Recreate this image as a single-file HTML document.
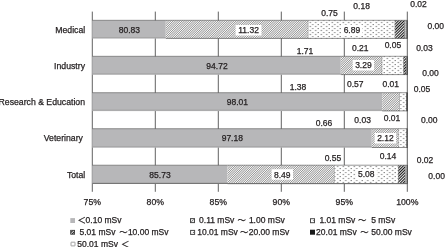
<!DOCTYPE html>
<html><head><meta charset="utf-8"><title>chart</title>
<style>
html,body{margin:0;padding:0;background:#fff;}
body{width:445px;height:247px;overflow:hidden;}
svg{display:block;will-change:transform;}
text{font-family:"Liberation Sans","Noto Sans CJK JP",sans-serif;font-size:8.7px;fill:#231f20;stroke:#231f20;stroke-width:0.25px;}
.fw{font-family:"Noto Sans CJK JP","Liberation Sans",sans-serif;}
</style></head><body>
<svg width="445" height="247" viewBox="0 0 445 247">
<defs>
<pattern id="h1" width="1.591" height="1.591" patternUnits="userSpaceOnUse" patternTransform="rotate(-45)">
<rect width="1.591" height="1.591" fill="#fff"/><rect width="1.591" height="0.62" fill="#727272"/></pattern>
<pattern id="h2" width="2.0" height="2.0" patternUnits="userSpaceOnUse" patternTransform="rotate(-45)">
<rect width="2" height="2" fill="#fff"/><rect width="2" height="1.1" fill="#1a1a1a"/></pattern>
<pattern id="dots" width="5.5" height="4" patternUnits="userSpaceOnUse">
<rect width="5.5" height="4" fill="#fff"/><rect x="4.1" y="-0.1" width="1.4" height="1.2" fill="#8c8c8c"/><rect x="-1.4" y="-0.1" width="1.4" height="1.2" fill="#8c8c8c"/><rect x="1.55" y="1.9" width="1.4" height="1.2" fill="#8c8c8c"/></pattern>
<pattern id="hz" width="2" height="2" patternUnits="userSpaceOnUse"><rect width="2" height="2" fill="#fff"/><rect y="0.6" width="2" height="0.9" fill="#6a6a6a"/></pattern>
</defs>
<rect width="445" height="247" fill="#fff"/>

<line x1="92.3" y1="11.6" x2="92.3" y2="191.8" stroke="#3a3a3a" stroke-width="0.8"/>
<line x1="155.3" y1="11.6" x2="155.3" y2="191.8" stroke="#3a3a3a" stroke-width="0.8"/>
<line x1="218.3" y1="11.6" x2="218.3" y2="191.8" stroke="#3a3a3a" stroke-width="0.8"/>
<line x1="281.3" y1="11.6" x2="281.3" y2="191.8" stroke="#3a3a3a" stroke-width="0.8"/>
<line x1="344.3" y1="11.6" x2="344.3" y2="191.8" stroke="#3a3a3a" stroke-width="0.8"/>
<line x1="407.3" y1="11.6" x2="407.3" y2="191.8" stroke="#3a3a3a" stroke-width="0.8"/>
<rect x="92.30" y="20.30" width="73.46" height="18.30" fill="#b7b7b9"/>
<rect x="165.76" y="20.30" width="142.63" height="18.30" fill="url(#h1)"/>
<line x1="308.39" y1="20.30" x2="308.39" y2="38.60" stroke="#444" stroke-width="0.6"/>
<rect x="308.39" y="20.30" width="86.81" height="18.30" fill="url(#dots)"/>
<line x1="395.20" y1="20.30" x2="395.20" y2="38.60" stroke="#444" stroke-width="0.6"/>
<rect x="395.20" y="20.30" width="9.45" height="18.30" fill="url(#h2)"/>
<line x1="404.65" y1="20.30" x2="404.65" y2="38.60" stroke="#444" stroke-width="0.6"/>
<rect x="404.65" y="20.30" width="2.27" height="18.30" fill="url(#hz)"/>
<line x1="406.92" y1="20.30" x2="406.92" y2="38.60" stroke="#444" stroke-width="0.6"/>
<rect x="406.92" y="20.30" width="0.25" height="18.30" fill="#111"/>
<line x1="407.17" y1="20.30" x2="407.17" y2="38.60" stroke="#444" stroke-width="0.6"/>
<line x1="165.8" y1="38.40" x2="407.3" y2="38.40" stroke="#444" stroke-width="0.6"/>
<line x1="92.3" y1="37.60" x2="165.8" y2="37.60" stroke="#999" stroke-width="0.6"/>
<line x1="92.3" y1="20.30" x2="407.3" y2="20.30" stroke="#555" stroke-width="0.6"/>
<text x="85.2" y="32.8" text-anchor="end">Medical</text>
<rect x="92.30" y="56.30" width="248.47" height="18.50" fill="#b7b7b9"/>
<rect x="340.77" y="56.30" width="41.45" height="18.50" fill="url(#h1)"/>
<line x1="382.23" y1="56.30" x2="382.23" y2="74.80" stroke="#444" stroke-width="0.6"/>
<rect x="382.23" y="56.30" width="21.55" height="18.50" fill="url(#dots)"/>
<line x1="403.77" y1="56.30" x2="403.77" y2="74.80" stroke="#444" stroke-width="0.6"/>
<rect x="403.77" y="56.30" width="2.65" height="18.50" fill="url(#h2)"/>
<line x1="406.42" y1="56.30" x2="406.42" y2="74.80" stroke="#444" stroke-width="0.6"/>
<rect x="406.42" y="56.30" width="0.63" height="18.50" fill="url(#hz)"/>
<line x1="407.05" y1="56.30" x2="407.05" y2="74.80" stroke="#444" stroke-width="0.6"/>
<rect x="407.05" y="56.30" width="0.25" height="18.50" fill="#111"/>
<line x1="407.30" y1="56.30" x2="407.30" y2="74.80" stroke="#444" stroke-width="0.6"/>
<line x1="340.8" y1="74.60" x2="407.3" y2="74.60" stroke="#444" stroke-width="0.6"/>
<line x1="92.3" y1="73.80" x2="340.8" y2="73.80" stroke="#999" stroke-width="0.6"/>
<line x1="92.3" y1="56.30" x2="407.3" y2="56.30" stroke="#555" stroke-width="0.6"/>
<text x="85.0" y="69.1" text-anchor="end">Industry</text>
<rect x="92.30" y="92.70" width="289.93" height="18.40" fill="#b7b7b9"/>
<rect x="382.23" y="92.70" width="17.39" height="18.40" fill="url(#h1)"/>
<line x1="399.61" y1="92.70" x2="399.61" y2="111.10" stroke="#444" stroke-width="0.6"/>
<rect x="399.61" y="92.70" width="7.18" height="18.40" fill="url(#dots)"/>
<line x1="406.80" y1="92.70" x2="406.80" y2="111.10" stroke="#444" stroke-width="0.6"/>
<rect x="406.80" y="92.70" width="0.13" height="18.40" fill="url(#h2)"/>
<line x1="406.92" y1="92.70" x2="406.92" y2="111.10" stroke="#444" stroke-width="0.6"/>
<rect x="406.92" y="92.70" width="0.13" height="18.40" fill="url(#hz)"/>
<line x1="407.05" y1="92.70" x2="407.05" y2="111.10" stroke="#444" stroke-width="0.6"/>
<rect x="407.05" y="92.70" width="0.25" height="18.40" fill="#111"/>
<line x1="407.30" y1="92.70" x2="407.30" y2="111.10" stroke="#444" stroke-width="0.6"/>
<line x1="382.2" y1="110.90" x2="407.3" y2="110.90" stroke="#444" stroke-width="0.6"/>
<line x1="92.3" y1="110.10" x2="382.2" y2="110.10" stroke="#999" stroke-width="0.6"/>
<line x1="92.3" y1="92.70" x2="407.3" y2="92.70" stroke="#555" stroke-width="0.6"/>
<text x="85.0" y="105.1" text-anchor="end">Research &amp; Education</text>
<rect x="92.30" y="128.70" width="279.47" height="19.00" fill="#b7b7b9"/>
<rect x="371.77" y="128.70" width="26.71" height="19.00" fill="url(#h1)"/>
<line x1="398.48" y1="128.70" x2="398.48" y2="147.70" stroke="#444" stroke-width="0.6"/>
<rect x="398.48" y="128.70" width="8.32" height="19.00" fill="url(#dots)"/>
<line x1="406.80" y1="128.70" x2="406.80" y2="147.70" stroke="#444" stroke-width="0.6"/>
<rect x="406.80" y="128.70" width="0.38" height="19.00" fill="url(#h2)"/>
<line x1="407.17" y1="128.70" x2="407.17" y2="147.70" stroke="#444" stroke-width="0.6"/>
<rect x="407.17" y="128.70" width="0.13" height="19.00" fill="url(#hz)"/>
<line x1="407.30" y1="128.70" x2="407.30" y2="147.70" stroke="#444" stroke-width="0.6"/>
<line x1="371.8" y1="147.50" x2="407.3" y2="147.50" stroke="#444" stroke-width="0.6"/>
<line x1="92.3" y1="146.70" x2="371.8" y2="146.70" stroke="#999" stroke-width="0.6"/>
<line x1="92.3" y1="128.70" x2="407.3" y2="128.70" stroke="#555" stroke-width="0.6"/>
<text x="82.9" y="141.2" text-anchor="end">Veterinary</text>
<rect x="92.30" y="165.20" width="135.20" height="18.70" fill="#b7b7b9"/>
<rect x="227.50" y="165.20" width="106.97" height="18.70" fill="url(#h1)"/>
<line x1="334.47" y1="165.20" x2="334.47" y2="183.90" stroke="#444" stroke-width="0.6"/>
<rect x="334.47" y="165.20" width="64.01" height="18.70" fill="url(#dots)"/>
<line x1="398.48" y1="165.20" x2="398.48" y2="183.90" stroke="#444" stroke-width="0.6"/>
<rect x="398.48" y="165.20" width="6.93" height="18.70" fill="url(#h2)"/>
<line x1="405.41" y1="165.20" x2="405.41" y2="183.90" stroke="#444" stroke-width="0.6"/>
<rect x="405.41" y="165.20" width="1.76" height="18.70" fill="url(#hz)"/>
<line x1="407.17" y1="165.20" x2="407.17" y2="183.90" stroke="#444" stroke-width="0.6"/>
<rect x="407.17" y="165.20" width="0.13" height="18.70" fill="#111"/>
<line x1="407.30" y1="165.20" x2="407.30" y2="183.90" stroke="#444" stroke-width="0.6"/>
<line x1="227.5" y1="183.70" x2="407.3" y2="183.70" stroke="#444" stroke-width="0.6"/>
<line x1="92.3" y1="182.90" x2="227.5" y2="182.90" stroke="#999" stroke-width="0.6"/>
<line x1="92.3" y1="165.20" x2="407.3" y2="165.20" stroke="#555" stroke-width="0.6"/>
<text x="85.3" y="177.7" text-anchor="end">Total</text>
<line x1="92.3" y1="183.5" x2="407.3" y2="183.5" stroke="#6e6e6e" stroke-width="0.9"/>
<text x="92.3" y="205.3" text-anchor="middle">75%</text>
<text x="155.3" y="205.3" text-anchor="middle">80%</text>
<text x="218.3" y="205.3" text-anchor="middle">85%</text>
<text x="281.3" y="205.3" text-anchor="middle">90%</text>
<text x="344.3" y="205.3" text-anchor="middle">95%</text>
<text x="407.3" y="205.3" text-anchor="middle">100%</text>
<text x="129.4" y="32.9" text-anchor="middle" style="font-size:8.5px">80.83</text>
<rect x="235.6" y="25.0" width="25.9" height="10.5" fill="#fff"/>
<text x="248.6" y="33.3" text-anchor="middle" style="font-size:8.5px">11.32</text>
<rect x="341.2" y="24.8" width="21.4" height="10.5" fill="#fff"/>
<text x="351.9" y="33.1" text-anchor="middle" style="font-size:8.5px">6.89</text>
<text x="329.5" y="16.4" text-anchor="middle" style="font-size:8.5px">0.75</text>
<text x="361.6" y="8.9" text-anchor="middle" style="font-size:8.5px">0.18</text>
<text x="418.5" y="6.5" text-anchor="middle" style="font-size:8.5px">0.02</text>
<text x="435.7" y="28.8" text-anchor="middle" style="font-size:8.5px">0.00</text>
<text x="217.0" y="69.0" text-anchor="middle" style="font-size:8.5px">94.72</text>
<rect x="352.7" y="60.0" width="21.4" height="10.5" fill="#fff"/>
<text x="363.4" y="68.3" text-anchor="middle" style="font-size:8.5px">3.29</text>
<text x="305.0" y="54.2" text-anchor="middle" style="font-size:8.5px">1.71</text>
<text x="360.3" y="51.0" text-anchor="middle" style="font-size:8.5px">0.21</text>
<text x="392.9" y="47.5" text-anchor="middle" style="font-size:8.5px">0.05</text>
<text x="424.4" y="51.0" text-anchor="middle" style="font-size:8.5px">0.03</text>
<text x="430.5" y="75.6" text-anchor="middle" style="font-size:8.5px">0.00</text>
<text x="237.4" y="105.3" text-anchor="middle" style="font-size:8.5px">98.01</text>
<text x="298.0" y="89.5" text-anchor="middle" style="font-size:8.5px">1.38</text>
<text x="355.2" y="87.3" text-anchor="middle" style="font-size:8.5px">0.57</text>
<text x="390.7" y="87.3" text-anchor="middle" style="font-size:8.5px">0.01</text>
<text x="422.0" y="91.7" text-anchor="middle" style="font-size:8.5px">0.05</text>
<text x="232.3" y="141.0" text-anchor="middle" style="font-size:8.5px">97.18</text>
<rect x="374.7" y="133.0" width="21.4" height="10.5" fill="#fff"/>
<text x="385.4" y="141.3" text-anchor="middle" style="font-size:8.5px">2.12</text>
<text x="324.0" y="126.2" text-anchor="middle" style="font-size:8.5px">0.66</text>
<text x="362.6" y="122.7" text-anchor="middle" style="font-size:8.5px">0.03</text>
<text x="392.0" y="120.8" text-anchor="middle" style="font-size:8.5px">0.01</text>
<text x="429.2" y="122.9" text-anchor="middle" style="font-size:8.5px">0.00</text>
<text x="160.0" y="178.0" text-anchor="middle" style="font-size:8.5px">85.73</text>
<rect x="271.6" y="169.2" width="21.4" height="10.5" fill="#fff"/>
<text x="282.3" y="177.5" text-anchor="middle" style="font-size:8.5px">8.49</text>
<rect x="355.5" y="169.0" width="21.4" height="10.5" fill="#fff"/>
<text x="366.2" y="177.3" text-anchor="middle" style="font-size:8.5px">5.08</text>
<text x="332.9" y="161.2" text-anchor="middle" style="font-size:8.5px">0.55</text>
<text x="388.0" y="158.9" text-anchor="middle" style="font-size:8.5px">0.14</text>
<text x="425.0" y="162.9" text-anchor="middle" style="font-size:8.5px">0.02</text>
<text x="436.6" y="178.7" text-anchor="middle" style="font-size:8.5px">0.00</text>
<rect x="70.3" y="218.1" width="4.7" height="4.9" fill="#b7b7b9"/>
<text y="223.3" style="font-size:8.5px"><tspan x="77.6" class="fw">＜</tspan><tspan x="85.6">0.10 mSv</tspan></text>
<rect x="70.7" y="230.3" width="3.9" height="3.9" fill="url(#h2)" stroke="#333" stroke-width="0.8"/>
<text y="234.7" style="font-size:8.5px"><tspan x="79.5">5.01 mSv</tspan><tspan x="119.3" class="fw">～</tspan><tspan x="127.9">10.00 mSv</tspan></text>
<rect x="71.0" y="242.2" width="4.0" height="3.7" rx="0.3" fill="#fff" stroke="#8a8a8a" stroke-width="0.8"/>
<text y="246.7" style="font-size:8.5px"><tspan x="77.3">50.01 mSv</tspan><tspan x="121.0" class="fw">＜</tspan></text>
<rect x="190.5" y="218.6" width="4" height="4" fill="#ececec" stroke="#4a4a4a" stroke-width="1"/><line x1="191.2" y1="221.9" x2="193.8" y2="219.3" stroke="#666" stroke-width="0.8"/>
<text y="223.3" style="font-size:8.5px"><tspan x="199.1">0.11 mSv</tspan><tspan x="237.4" class="fw">～</tspan><tspan x="248.9">1.00 mSv</tspan></text>
<rect x="190.6" y="230.4" width="4" height="4" fill="#fff" stroke="#4a4a4a" stroke-width="1"/><rect x="192.9" y="231.9" width="1.3" height="1.0" fill="#666"/>
<text y="234.7" style="font-size:8.5px"><tspan x="197.2">10.01 mSv</tspan><tspan x="239.9" class="fw">～</tspan><tspan x="248.7">20.00 mSv</tspan></text>
<rect x="310.5" y="218.7" width="4" height="4" fill="#fff" stroke="#4a4a4a" stroke-width="1"/><rect x="312.9" y="220.2" width="1.0" height="0.9" fill="#777"/>
<text y="223.3" style="font-size:8.5px"><tspan x="319.4">1.01 mSv</tspan><tspan x="357.9" class="fw">～</tspan><tspan x="371.2">5 mSv</tspan></text>
<rect x="310.0" y="229.7" width="5" height="5" fill="#1a1a1a"/>
<text y="234.7" style="font-size:8.5px"><tspan x="316.1">20.01 mSv</tspan><tspan x="360.2" class="fw">～</tspan><tspan x="371.2">50.00 mSv</tspan></text>
</svg></body></html>
